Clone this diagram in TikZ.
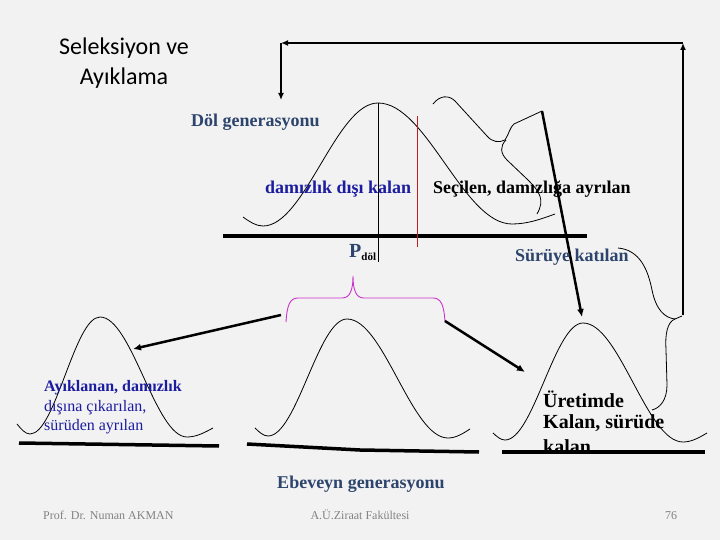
\documentclass[tikz,border=0pt]{standalone}
\usepackage{fontspec}
\setmainfont{Liberation Serif}
\newfontfamily\titlefont{Carlito}
\usetikzlibrary{arrows.meta}
\definecolor{bg}{RGB}{242,242,242}
\definecolor{slate}{RGB}{45,68,108}
\definecolor{dblue}{RGB}{28,28,160}
\definecolor{mag}{RGB}{204,51,204}
\definecolor{redl}{RGB}{190,30,30}
\definecolor{foot}{RGB}{130,130,130}
\tikzset{
  curve/.style={line width=0.8pt, black},
  baseline/.style={line width=3.5pt, black},
  thickarrow/.style={line width=2.5pt, black, -{Latex[length=8pt,width=7pt]}},
  toparrow/.style={line width=2.2pt, black, -{Latex[length=7pt,width=6pt]}},
  lbl/.style={inner sep=0pt, anchor=west},
  bbig/.style={font=\fontsize{18}{18}\selectfont\bfseries},
  bmid/.style={font=\fontsize{16}{16}\selectfont\bfseries},
  rmid/.style={font=\fontsize{16}{16}\selectfont},
  bure/.style={font=\fontsize{20}{20}\selectfont\bfseries},
  footer/.style={inner sep=0pt, text=foot, font=\fontsize{12}{12}\selectfont},
}
\begin{document}
\begin{tikzpicture}[x=1pt,y=-1pt]
\fill[bg] (0,0) rectangle (720,540);
\useasboundingbox (0,0) rectangle (720,540);

% title
\node[inner sep=0pt, align=center, font=\titlefont\fontsize{24}{30}\selectfont] (title) at (124,63) {Seleksiyon ve\\Ayıklama};

% top (offspring) generation curve
\draw[curve] (243,217) sin (263,226) cos (320.5,164.5) sin (378,103) cos (445,163.5) sin (512,224) cos (555,214);
\draw[baseline] (223,236) -- (587,236);
\draw[line width=1pt] (378,103) -- (378,262);
\draw[redl, line width=0.75pt] (417,116) -- (417,247);

% rotated brace (top right)
\draw[curve] (433,104) .. controls (440,95) and (449,95) .. (455,101) -- (487,136) .. controls (492,142) and (499,143) .. (505,140);
\draw[curve] (505,140) .. controls (509,134) and (510,127) .. (514,124) -- (542,111);
\draw[curve] (506,140) .. controls (500,146) and (500,153) .. (507,160) -- (528,180) .. controls (540,192) and (545,200) .. (537,214);

% right brace
\draw[curve] (618,248) .. controls (640,250) and (648,270) .. (652,290) .. controls (656,310) and (665,318) .. (675,319) -- (682,316);
\draw[curve] (675,319) .. controls (667,322) and (665,335) .. (666,350) -- (667,385) .. controls (667,400) and (660,408) .. (652,410);

% magenta brace
\draw[mag, line width=0.9pt] (286,322) .. controls (287,305) and (290,298) .. (298,298) -- (342,298) .. controls (350,298) and (353,290) .. (353,276) .. controls (353,290) and (356,298) .. (364,298) -- (433,298) .. controls (441,298) and (444,305) .. (445,322);

% lower curves
\draw[curve] (17,424) sin (30,434) cos (65,375.5) sin (100,317) cos (143.5,377) sin (187,437) cos (213,428);
\draw[curve] (255,428) sin (268,436) cos (307.5,377.5) sin (347,319) cos (397.5,378.5) sin (448,438) cos (470,429);
\draw[curve] (493,433) sin (505,440) cos (544,381.5) sin (583,323) cos (633,382.5) sin (683,442) cos (707,433);
\draw[baseline] (19,443) -- (219,446);
\draw[baseline] (247,444) -- (360,450) -- (479,452);
\draw[baseline] (502,452) -- (705,452);

% connector coordinates
\coordinate (tl) at (281,43);
\coordinate (tr) at (683,43);
\coordinate (tld) at (281,100);
\coordinate (rb) at (683,315);
\coordinate (sbr) at (542,111);
\coordinate (sbe) at (582,317);
\coordinate (ml) at (281,315);
\coordinate (mle) at (133,349);
\coordinate (mr) at (445,321);
\coordinate (mre) at (525,372);

\draw[toparrow] (rb) -- (tr);
\draw[toparrow] (tr) -- (tl);
\draw[toparrow] (tl) -- (tld);
\draw[thickarrow] (sbr) -- (sbe);
\draw[thickarrow] (ml) -- (mle);
\draw[thickarrow] (mr) -- (mre);

% labels
\node[lbl, bbig, text=slate] (dol) at (191,122) {Döl generasyonu};
\node[lbl, bbig, text=dblue] (disi) at (265,189) {damızlık dışı kalan};
\node[lbl, bbig, text=black] (secilen) at (433,189) {Seçilen, damızlığa ayrılan};
\node[lbl, text=slate] (pdol) at (349,253) {\fontsize{20}{20}\selectfont\bfseries P\raisebox{-3pt}{\color{black}\fontsize{11}{11}\selectfont döl}};
\node[lbl, bbig, text=slate] (suruye) at (515,257) {Sürüye katılan};
\node[lbl, bmid, text=dblue] (ayik) at (44,388) {Ayıklanan, damızlık};
\node[lbl, rmid, text=dblue] (disina) at (44,408) {dışına çıkarılan,};
\node[lbl, rmid, text=dblue] (suruden) at (44,427) {sürüden ayrılan};
\node[lbl, bure] (uret1) at (543,399) {Üretimde};
\node[lbl, bure] (uret2) at (543,423) {Kalan, sürüde};
\node[lbl, bure] (uret3) at (543,447) {kalan};
\node[inner sep=0pt, bbig, text=slate] (ebev) at (361,484) {Ebeveyn generasyonu};

% footer
\node[footer, anchor=base west] (prof) at (43,519) {Prof. Dr. Numan AKMAN};
\node[footer, anchor=base] (univ) at (360,519) {A.Ü.Ziraat Fakültesi};
\node[footer, anchor=base] (page) at (671,519) {76};
\end{tikzpicture}
\end{document}
